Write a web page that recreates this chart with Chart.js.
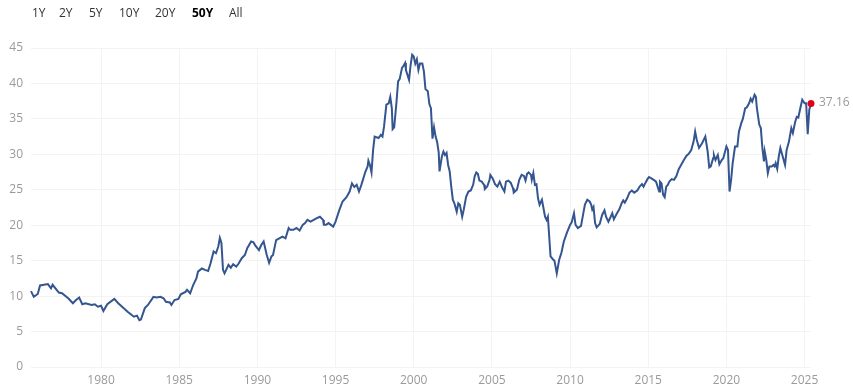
<!DOCTYPE html>
<html>
<head>
<meta charset="utf-8">
<script src="https://cdn.jsdelivr.net/npm/chart.js@4"></script>
<style>
  html, body { margin: 0; padding: 0; background: #fff; }
  #wrap { position: relative; width: 853px; height: 391px; }
  #ranges { position: absolute; top: 4px; left: 0; height: 18px; font: 12px "Open Sans", sans-serif; color: #333; }
  #ranges span { position: absolute; top: 0; white-space: nowrap; }
  #ranges span.active { font-weight: bold; color: #000; }
  canvas { position: absolute; top: 0; left: 0; }
</style>
</head>
<body>
<div id="wrap">
  <canvas id="chart" width="853" height="391"></canvas>
  <div id="ranges"></div>
</div>
<script>
const RANGES = ["1Y", "2Y", "5Y", "10Y", "20Y", "50Y", "All"]
const ACTIVE_RANGE = "50Y"
const RANGE_LEFT = [32, 59, 89, 119, 155, 192, 229]

const YEAR_TICKS = [1980, 1985, 1990, 1995, 2000, 2005, 2010, 2015, 2020, 2025]
const VALUE_TICKS = [0, 5, 10, 15, 20, 25, 30, 35, 40, 45]

// dates as decimal years
const DATES = [
  1975.52, 1975.7, 1975.95, 1976.1, 1976.35, 1976.6, 1976.8, 1976.9, 1977.3, 1977.5,
  1977.9, 1978.2, 1978.4, 1978.6, 1978.8, 1979.0, 1979.4, 1979.6, 1979.8, 1980.0,
  1980.15, 1980.4, 1980.85, 1981.1, 1981.4, 1981.7, 1981.9, 1982.1, 1982.3, 1982.45,
  1982.55, 1982.8, 1983.0, 1983.35, 1983.55, 1983.8, 1984.0, 1984.15, 1984.4, 1984.5,
  1984.7, 1984.95, 1985.1, 1985.4, 1985.5, 1985.7, 1985.9, 1986.1, 1986.2, 1986.45,
  1986.65, 1986.85, 1987.0, 1987.2, 1987.35, 1987.5, 1987.6, 1987.7, 1987.8, 1987.9,
  1988.15, 1988.3, 1988.45, 1988.65, 1988.8, 1989.0, 1989.2, 1989.35, 1989.6, 1989.75,
  1989.85, 1990.1, 1990.25, 1990.4, 1990.6, 1990.75, 1990.9, 1991.0, 1991.2, 1991.4,
  1991.6, 1991.8, 1992.0, 1992.1, 1992.3, 1992.5, 1992.7, 1992.9, 1993.05, 1993.2,
  1993.4, 1993.6, 1993.8, 1994.0, 1994.2, 1994.25, 1994.4, 1994.55, 1994.7, 1994.85,
  1995.0, 1995.25, 1995.45, 1995.7, 1995.9, 1996.05, 1996.2, 1996.35, 1996.5, 1996.65,
  1996.75, 1996.9, 1997.05, 1997.1, 1997.2, 1997.3, 1997.4, 1997.5, 1997.75, 1997.9,
  1998.0, 1998.1, 1998.25, 1998.4, 1998.5, 1998.6, 1998.65, 1998.75, 1998.9, 1999.0,
  1999.1, 1999.25, 1999.35, 1999.45, 1999.5, 1999.6, 1999.7, 1999.8, 1999.9, 2000.0,
  2000.1, 2000.2, 2000.3, 2000.4, 2000.55, 2000.65, 2000.75, 2000.9, 2001.0, 2001.1,
  2001.2, 2001.3, 2001.4, 2001.5, 2001.6, 2001.65, 2001.8, 2001.9, 2002.0, 2002.1,
  2002.2, 2002.3, 2002.4, 2002.5, 2002.6, 2002.75, 2002.85, 2002.95, 2003.1, 2003.2,
  2003.35, 2003.5, 2003.65, 2003.8, 2003.9, 2004.0, 2004.1, 2004.2, 2004.35, 2004.5,
  2004.55, 2004.7, 2004.85, 2004.9, 2005.05, 2005.2, 2005.35, 2005.5, 2005.65, 2005.8,
  2005.9, 2006.05, 2006.2, 2006.35, 2006.4, 2006.6, 2006.75, 2006.9, 2007.05, 2007.15,
  2007.25, 2007.35, 2007.5, 2007.55, 2007.65, 2007.75, 2007.85, 2007.95, 2008.05, 2008.2,
  2008.3, 2008.4, 2008.5, 2008.58, 2008.65, 2008.75, 2008.9, 2009.0, 2009.15, 2009.3,
  2009.45, 2009.6, 2009.8, 2010.0, 2010.1, 2010.25, 2010.35, 2010.5, 2010.7, 2010.85,
  2010.95, 2011.1, 2011.25, 2011.35, 2011.42, 2011.5, 2011.6, 2011.7, 2011.9, 2012.05,
  2012.2, 2012.3, 2012.45, 2012.6, 2012.7, 2012.8, 2013.0, 2013.15, 2013.3, 2013.4,
  2013.5, 2013.65, 2013.8, 2013.95, 2014.1, 2014.3, 2014.45, 2014.6, 2014.7, 2014.8,
  2014.95, 2015.05, 2015.2, 2015.35, 2015.5, 2015.6, 2015.7, 2015.75, 2015.85, 2015.95,
  2016.05, 2016.15, 2016.25, 2016.35, 2016.5, 2016.65, 2016.8, 2016.95, 2017.1, 2017.25,
  2017.45, 2017.6, 2017.75, 2017.9, 2018.0, 2018.1, 2018.25, 2018.45, 2018.65, 2018.8,
  2018.9, 2019.0, 2019.15, 2019.2, 2019.3, 2019.45, 2019.55, 2019.7, 2019.8, 2020.0,
  2020.1, 2020.2, 2020.3, 2020.4, 2020.55, 2020.7, 2020.8, 2020.95, 2021.05, 2021.2,
  2021.3, 2021.45, 2021.55, 2021.65, 2021.8, 2021.88, 2021.95, 2022.1, 2022.2, 2022.3,
  2022.4, 2022.45, 2022.55, 2022.65, 2022.75, 2022.9, 2023.0, 2023.08, 2023.15, 2023.25,
  2023.35, 2023.45, 2023.6, 2023.75, 2023.85, 2024.0, 2024.15, 2024.25, 2024.4, 2024.5,
  2024.6, 2024.75, 2024.85, 2025.0, 2025.1, 2025.2, 2025.3, 2025.41
]

const CAPE = [
  10.7, 9.9, 10.3, 11.5, 11.6, 11.7, 11.1, 11.6, 10.5, 10.4,
  9.7, 9.0, 9.45, 9.8, 8.85, 9.0, 8.75, 8.85, 8.5, 8.65,
  7.9, 8.85, 9.6, 9.0, 8.4, 7.8, 7.45, 7.1, 7.25, 6.6,
  6.7, 8.3, 8.75, 9.9, 9.8, 9.9, 9.7, 9.2, 9.1, 8.75,
  9.45, 9.6, 10.25, 10.6, 10.9, 10.4, 11.6, 12.5, 13.45, 13.9,
  13.7, 13.55, 14.6, 16.3, 16.05, 17.0, 18.2, 17.5, 13.7, 13.2,
  14.4, 14.0, 14.5, 14.15, 14.6, 15.35, 15.8, 16.75, 17.7, 17.6,
  17.2, 16.5, 17.2, 17.7, 15.8, 14.7, 15.6, 15.8, 17.9, 18.15,
  18.4, 18.15, 19.6, 19.35, 19.35, 19.6, 19.25, 20.05, 20.3, 20.75,
  20.5, 20.75, 21.0, 21.2, 20.75, 20.05, 20.05, 20.3, 20.05, 19.8,
  20.5, 22.2, 23.35, 23.95, 24.75, 25.9, 25.4, 25.7, 24.75, 25.7,
  26.4, 27.5, 28.3, 29.1, 28.5, 27.45, 30.6, 32.5, 32.3, 32.75,
  32.5, 33.9, 37.0, 37.2, 38.1, 36.5, 33.55, 33.8, 37.45, 40.3,
  40.6, 42.2, 42.5, 42.9, 41.9, 41.2, 40.5, 42.6, 44.05, 43.8,
  42.8, 43.4, 41.9, 42.8, 42.8, 41.7, 39.2, 38.9, 37.1, 36.5,
  32.2, 33.8, 32.5, 31.7, 30.2, 27.6, 29.7, 30.4, 29.9, 30.2,
  28.5, 27.6, 25.45, 23.6, 23.1, 21.9, 23.1, 22.9, 21.2, 22.2,
  24.0, 24.75, 24.9, 25.7, 26.9, 27.45, 27.25, 26.3, 26.15, 25.7,
  25.1, 25.45, 26.4, 27.1, 26.6, 25.8, 25.45, 26.15, 25.35, 24.75,
  26.15, 26.3, 26.0, 25.2, 24.6, 25.0, 26.4, 27.1, 26.95, 26.3,
  27.25, 27.45, 27.1, 26.4, 27.35, 25.7, 25.8, 23.8, 22.9, 23.6,
  22.4, 21.2, 20.75, 21.2, 18.9, 15.6, 15.2, 15.0, 13.2, 15.1,
  16.15, 17.7, 18.95, 20.05, 20.4, 21.7, 20.05, 19.6, 19.9, 21.7,
  22.9, 23.6, 23.35, 22.9, 22.2, 22.55, 20.3, 19.7, 20.2, 21.45,
  22.1, 21.2, 20.5, 21.2, 21.7, 20.85, 21.7, 22.25, 23.1, 23.5,
  23.2, 23.8, 24.6, 24.9, 24.6, 24.9, 25.45, 25.8, 25.45, 25.9,
  26.5, 26.8, 26.6, 26.4, 26.15, 25.45, 24.75, 26.15, 25.9, 24.3,
  23.95, 25.45, 25.7, 26.15, 26.5, 26.4, 26.95, 27.9, 28.5, 29.1,
  29.8, 30.1, 30.6, 31.8, 33.2, 32.05, 30.9, 31.6, 32.5, 30.4,
  28.15, 28.3, 29.45, 29.9, 29.2, 29.9, 28.6, 29.2, 29.45, 31.1,
  30.6, 24.75, 26.4, 28.75, 31.1, 31.1, 33.2, 34.4, 35.0, 36.5,
  36.6, 37.2, 37.85, 37.45, 38.4, 38.15, 36.5, 34.2, 33.7, 30.9,
  29.0, 30.4, 29.2, 27.35, 28.3, 28.3, 28.5, 28.3, 28.75, 27.95,
  29.7, 30.9, 29.7, 28.5, 30.6, 31.8, 33.7, 33.0, 34.6, 35.3,
  35.2, 36.75, 37.7, 37.2, 37.2, 32.85, 36.3, 37.16
]

const LINE_COLOR = "#34558f"
const LAST_COLOR = "#e0001b"
const GRID_COLOR = "#f3f3f3"
const TICK_COLOR = "#9a9a9a"
const FONT = "'Open Sans', sans-serif"

// range buttons
const rangesEl = document.getElementById("ranges")
RANGES.forEach((r, i) => {
  const s = document.createElement("span")
  s.textContent = r
  s.style.left = RANGE_LEFT[i] + "px"
  if (r === ACTIVE_RANGE) s.className = "active"
  rangesEl.appendChild(s)
})

const points = DATES.map((x, i) => ({ x, y: CAPE[i] }))
const lastIndex = points.length - 1

const lastLabel = {
  id: "lastLabel",
  afterDatasetsDraw(chart) {
    const pt = chart.getDatasetMeta(0).data[lastIndex]
    const ctx = chart.ctx
    ctx.save()
    ctx.font = "12px " + FONT
    ctx.fillStyle = TICK_COLOR
    ctx.textAlign = "left"
    ctx.textBaseline = "middle"
    ctx.fillText(CAPE[lastIndex].toFixed(2), pt.x + 8, pt.y - 1)
    ctx.restore()
  }
}

new Chart(document.getElementById("chart"), {
  type: "line",
  data: {
    datasets: [{
      data: points,
      borderColor: LINE_COLOR,
      borderWidth: 2,
      tension: 0,
      fill: false,
      clip: false,
      pointRadius: (c) => (c.dataIndex === lastIndex ? 3.5 : 0),
      pointBackgroundColor: LAST_COLOR,
      pointBorderWidth: 0,
      pointHoverRadius: 0
    }]
  },
  options: {
    responsive: false,
    animation: false,
    layout: { padding: { top: 48, right: 42, bottom: 0, left: 0 } },
    plugins: {
      legend: { display: false },
      tooltip: { enabled: false }
    },
    scales: {
      x: {
        type: "linear",
        min: DATES[0],
        max: DATES[lastIndex],
        afterBuildTicks: (scale) => { scale.ticks = YEAR_TICKS.map((v) => ({ value: v })) },
        afterFit: (scale) => { scale.height = 24 },
        grid: { color: GRID_COLOR, drawTicks: false },
        border: { display: false },
        ticks: {
          padding: 6,
          maxRotation: 0,
          autoSkip: false,
          color: TICK_COLOR,
          font: { family: FONT, size: 12 },
          callback: (v) => String(v)
        }
      },
      y: {
        min: 0,
        max: 45,
        afterBuildTicks: (scale) => { scale.ticks = VALUE_TICKS.map((v) => ({ value: v })) },
        afterFit: (scale) => { scale.width = 31 },
        grid: { color: GRID_COLOR, drawTicks: false },
        border: { display: false },
        ticks: {
          padding: 8,
          color: TICK_COLOR,
          font: { family: FONT, size: 12 }
        }
      }
    }
  },
  plugins: [lastLabel]
})
</script>
</body>
</html>
